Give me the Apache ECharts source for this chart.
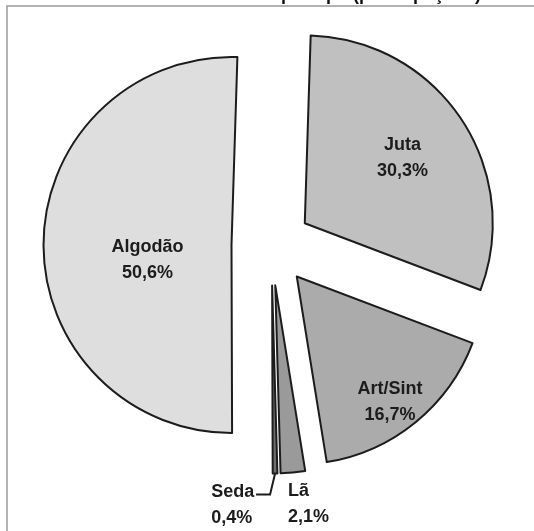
<!DOCTYPE html>
<html>
<head>
<meta charset="utf-8">
<script src="https://cdn.jsdelivr.net/npm/echarts@6/dist/echarts.min.js"></script>
<style>
  html, body { margin: 0; padding: 0; background: #ffffff; }
  #chart { width: 534px; height: 531px; }
</style>
</head>
<body>
<div id="chart"></div>
<script>
// Fibre consumption by type (%), in the order the slices are laid out clockwise from 12 o'clock
const categories = ['Juta', 'Art/Sint', 'Lã', 'Seda', 'Algodão'];
const shares = [30.3, 16.7, 2.1, 0.4, 50.6];

const sliceColors = ['#c0c0c0', '#ababab', '#9a9a9a', '#6e6e6e', '#dedede'];
const outsideNames = ['Lã', 'Seda'];

// Nudges applied to each label after the pie computes its default spot
const labelNudge = {
  'Juta': [17, -11],
  'Art/Sint': [32, 50],
  'Lã': [-21, 20],
  'Seda': [-79, 20],
  'Algodão': [13, 16]
};

const fmt = v => v.toFixed(1).replace('.', ',') + '%';

const chart = echarts.init(document.getElementById('chart'), null, { renderer: 'canvas' });

chart.setOption({
  animation: false,
  backgroundColor: '#ffffff',
  title: {
    text: 'Gráfico 3 - Consumo de fibras por tipo (participações)',
    left: 14,
    top: -18.5,
    textStyle: { fontFamily: 'Liberation Sans', fontWeight: 'bold', fontSize: 18, color: '#111111' }
  },
  graphic: [{
    type: 'rect',
    z: -10,
    shape: { x: 7, y: 6, width: 560, height: 560 },
    style: { fill: 'none', stroke: '#9a9a9a', lineWidth: 1.5 },
    silent: true
  }],
  series: [{
    type: 'pie',
    center: [271.5, 245.5],
    radius: 188,
    startAngle: 88.2,
    clockwise: true,
    selectedMode: 'multiple',
    selectedOffset: 40,
    avoidLabelOverlap: false,
    emphasis: { disabled: true },
    itemStyle: { borderColor: '#1c1c1c', borderWidth: 2 },
    label: {
      show: true,
      position: 'outside',
      formatter: p => p.name + '\n' + fmt(p.value),
      fontFamily: 'Liberation Sans',
      fontWeight: 'bold',
      fontSize: 18,
      lineHeight: 26,
      color: '#1c1c1c',
      align: 'center'
    },
    labelLine: {
      show: true,
      length: 12,
      length2: 10,
      lineStyle: { color: '#1c1c1c', width: 2 }
    },
    labelLayout: function (params) {
      const name = categories[params.dataIndex];
      const n = labelNudge[name];
      const out = { dx: n[0], dy: n[1] };
      if (name === 'Seda' && params.labelLinePoints) {
        // short leader: down-left from the slice tip, then left towards the text
        const p0 = params.labelLinePoints[0];
        out.labelLinePoints = [
          [p0[0], p0[1]],
          [p0[0] - 5, p0[1] + 21],
          [p0[0] - 19, p0[1] + 21]
        ];
      }
      return out;
    },
    data: categories.map((name, i) => {
      const outside = outsideNames.indexOf(name) >= 0;
      return {
        name: name,
        value: shares[i],
        selected: true,
        itemStyle: { color: sliceColors[i] },
        label: { position: outside ? 'outside' : 'inside' },
        labelLine: { show: name === 'Seda' }
      };
    })
  }]
});
</script>
</body>
</html>
